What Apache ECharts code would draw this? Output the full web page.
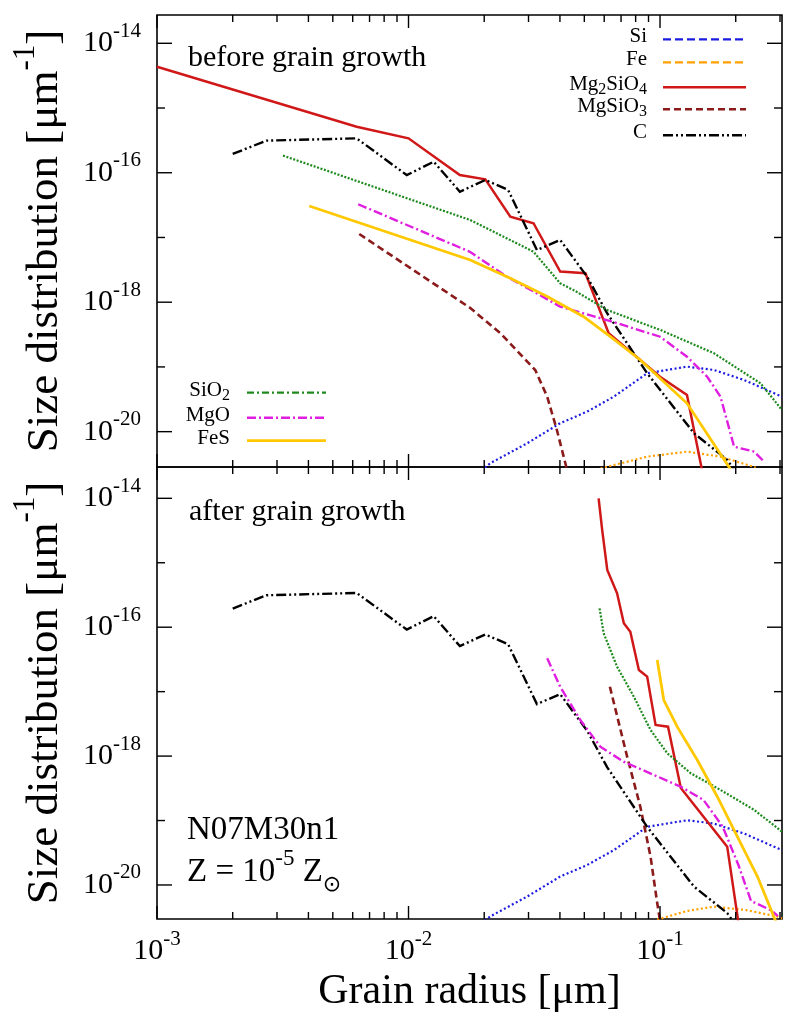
<!DOCTYPE html>
<html>
<head>
<meta charset="utf-8">
<script src="https://cdn.jsdelivr.net/npm/echarts@6/dist/echarts.min.js"></script>
<style>
  html, body { margin: 0; padding: 0; background: #fff; }
  #chart { width: 788px; height: 1017px; }
</style>
</head>
<body>
<div id="chart"></div>
<script>
// Grain size distributions [um^-1] against grain radius [um], before and after grain growth.

// ---- before grain growth ----
const siBefore = [[0.0195, 2.5e-21], [0.0211, 3.24e-21], [0.0296, 6.6e-21], [0.0401, 1.35e-20], [0.0513, 2.04e-20],
  [0.0655, 3.47e-20], [0.0889, 7.98e-20], [0.128, 1.01e-19], [0.164, 8.97e-20], [0.216, 6.28e-20], [0.3055, 3.47e-20]];
const feBefore = [[0.058, 2.7e-21], [0.0889, 4.11e-21], [0.128, 4.91e-21], [0.174, 4.11e-21], [0.24, 2.8e-21]];
const mg2sio4Before = [[0.001, 4.34e-15], [0.00622, 5.15e-16], [0.0100, 3.40e-16], [0.0160, 9.2e-17], [0.0202, 7.92e-17],
  [0.0254, 2.09e-17], [0.0314, 1.66e-17], [0.0401, 2.97e-18], [0.0505, 2.80e-18], [0.0625, 3.31e-19], [0.1, 7.06e-20],
  [0.128, 3.69e-20], [0.148, 2.2e-21]];
const mgsio3Before = [[0.00637, 1.13e-17], [0.0176, 8.15e-19], [0.0232, 3.31e-19], [0.0319, 8.97e-20], [0.0356, 3.47e-20],
  [0.0389, 1.06e-20], [0.0430, 2.3e-21]];
const cBefore = [[0.0020, 1.95e-16], [0.00272, 3.13e-16], [0.00622, 3.40e-16], [0.00984, 9.2e-17], [0.0126, 1.48e-16],
  [0.0160, 5.09e-17], [0.0202, 7.73e-17], [0.0249, 5.42e-17], [0.0324, 6.41e-18], [0.0401, 9.14e-18], [0.0513, 2.48e-18],
  [0.0616, 6.75e-19], [0.0889, 7.98e-20], [0.1365, 9.44e-21], [0.185, 3.66e-21], [0.2, 2.4e-21]];
const sio2Before = [[0.00317, 1.84e-16], [0.0176, 1.86e-17], [0.0314, 6.03e-18], [0.0401, 1.96e-18], [0.0460, 1.49e-18],
  [0.0616, 7.59e-19], [0.1004, 3.72e-19], [0.1637, 1.63e-19], [0.251, 5.58e-20], [0.3055, 2.16e-20]];
const mgoBefore = [[0.00631, 3.26e-17], [0.0176, 5.97e-18], [0.0246, 2.48e-18], [0.0324, 1.37e-18], [0.0401, 8.53e-19],
  [0.0647, 5.0e-19], [0.1, 2.93e-19], [0.128, 1.44e-19], [0.154, 7.06e-20], [0.174, 3.47e-20], [0.197, 5.86e-21],
  [0.237, 4.91e-21], [0.26, 3.4e-21]];
const fesBefore = [[0.00403, 3.06e-17], [0.0176, 4.49e-18], [0.0254, 2.35e-18], [0.0356, 1.22e-18], [0.0497, 5.97e-19],
  [0.0635, 2.93e-19], [0.0835, 1.28e-19], [0.128, 2.74e-20], [0.195, 2.3e-21]];

// ---- after grain growth (Si and C keep their distributions) ----
const siAfter = siBefore;
const cAfter = cBefore;
const feAfter = [[0.0975, 2.9e-21], [0.128, 3.95e-21], [0.1637, 4.61e-21], [0.219, 4.09e-21], [0.293, 3.24e-21], [0.3055, 3.0e-21]];
const mg2sio4After = [[0.0570, 1.0e-14], [0.0589, 3.22e-15], [0.0617, 7.73e-16], [0.0675, 3.36e-16], [0.0718, 1.15e-16],
  [0.0762, 8.51e-17], [0.0824, 2.17e-17], [0.0889, 1.71e-17], [0.0960, 3.04e-18], [0.1076, 2.86e-18], [0.121, 3.2e-19],
  [0.185, 3.93e-20], [0.206, 2.3e-21]];
const mgsio3After = [[0.0632, 1.19e-17], [0.0740, 9.8e-19], [0.0835, 1.64e-19], [0.0917, 2.75e-20], [0.0975, 5.2e-21],
  [0.1008, 2.3e-21]];
const sio2After = [[0.0575, 1.96e-16], [0.0597, 8.04e-17], [0.0675, 2.44e-17], [0.0787, 8.35e-18], [0.0917, 2.54e-18],
  [0.107, 1.10e-18], [0.1325, 5.41e-19], [0.174, 2.98e-19], [0.237, 1.46e-19], [0.3055, 6.71e-20]];
const mgoAfter = [[0.0356, 3.29e-17], [0.0401, 1.19e-17], [0.0482, 3.63e-18], [0.0579, 1.40e-18], [0.0716, 8.18e-19],
  [0.121, 3.35e-19], [0.149, 2.08e-19], [0.1775, 8.04e-20], [0.205, 2.04e-20], [0.23, 5.65e-21], [0.275, 4.09e-21],
  [0.294, 3.30e-21]];
const fesAfter = [[0.0975, 3.10e-17], [0.1035, 7.41e-18], [0.117, 2.86e-18], [0.1406, 8.69e-19], [0.169, 2.34e-19],
  [0.203, 5.62e-20], [0.244, 1.35e-20], [0.29, 2.6e-21]];

// ---- tick positions ----
const xMajorTicks = [0.001, 0.01, 0.1];
const xMinorTicks = [0.002, 0.003, 0.004, 0.005, 0.006, 0.007, 0.008, 0.009,
  0.02, 0.03, 0.04, 0.05, 0.06, 0.07, 0.08, 0.09, 0.2, 0.3];
const yMajorTicks = [1e-20, 1e-18, 1e-16, 1e-14];
const yMinorTicks = [1e-19, 1e-17, 1e-15];

const SERIF = '"Liberation Serif", "Times New Roman", "DejaVu Serif", serif';

const COLORS = {
  Si: '#1c1ce0', Fe: '#ffa000', Mg2SiO4: '#d01818', MgSiO3: '#8b1a1a',
  C: '#000000', SiO2: '#1e8a1e', MgO: '#e01ee0', FeS: '#ffc800'
};
const DASH = {
  Si: [2, 2.5], Fe: [2, 2.5], Mg2SiO4: 'solid', MgSiO3: [7, 4],
  C: [10, 3, 2, 3, 2, 3], SiO2: [2, 1.6], MgO: [9, 3, 2, 3], FeS: 'solid'
};
const WIDTH = { Si: 2.2, Fe: 2.2, Mg2SiO4: 2.5, MgSiO3: 2.6, C: 2.4, SiO2: 2.2, MgO: 2.4, FeS: 2.8 };

function lineSeries(name, data, g) {
  return {
    type: 'line', name: name, data: data, xAxisIndex: g, yAxisIndex: g,
    showSymbol: false, symbol: 'none', clip: true, silent: true,
    lineStyle: { color: COLORS[name], width: WIDTH[name], type: DASH[name], cap: 'butt', join: 'miter' },
    emphasis: { disabled: true }
  };
}

// inward ticks on all four sides of a panel, drawn through the panel's own axes
const tickData = [].concat(
  xMajorTicks.map(v => [v, 1e-17, 0]),
  xMinorTicks.map(v => [v, 1e-17, 1]),
  yMajorTicks.map(v => [0.01, v, 2]),
  yMinorTicks.map(v => [0.01, v, 3])
);
function tickSeries(g) {
  return {
    type: 'custom', xAxisIndex: g, yAxisIndex: g, silent: true, z: 10,
    dimensions: ['x', 'y', 'kind'], encode: { x: 0, y: 1 },
    data: tickData,
    renderItem: function (params, api) {
      const cs = params.coordSys;
      const kind = api.value(2);
      const p = api.coord([api.value(0), api.value(1)]);
      const st = { stroke: '#000', lineWidth: 1.4 };
      if (kind < 2) {
        const len = kind === 0 ? 13 : 7;
        const b = cs.y + cs.height;
        return { type: 'group', children: [
          { type: 'line', shape: { x1: p[0], y1: b, x2: p[0], y2: b - len }, style: st },
          { type: 'line', shape: { x1: p[0], y1: cs.y, x2: p[0], y2: cs.y + len }, style: st }
        ] };
      }
      const len = kind === 2 ? 15 : 8;
      const r = cs.x + cs.width;
      return { type: 'group', children: [
        { type: 'line', shape: { x1: cs.x, y1: p[1], x2: cs.x + len, y2: p[1] }, style: st },
        { type: 'line', shape: { x1: r, y1: p[1], x2: r - len, y2: p[1] }, style: st }
      ] };
    }
  };
}

function decadeLabel(v, evenOnly) {
  const e = Math.log10(v);
  const r = Math.round(e);
  if (Math.abs(e - r) > 1e-6) return '';
  if (evenOnly && r % 2 !== 0) return '';
  return '{b|10}{s|' + r + '}';
}

const tickRich = {
  b: { fontSize: 30, fontFamily: SERIF, color: '#000', verticalAlign: 'middle' },
  s: { fontSize: 21, fontFamily: SERIF, color: '#000', verticalAlign: 'top', padding: [0, 0, 24, 0] }
};

function xAxis(g, withLabels) {
  const ax = {
    type: 'log', gridIndex: g, min: 0.001, max: Math.pow(10, -0.515),
    axisLine: { show: false }, axisTick: { show: false }, splitLine: { show: false },
    axisLabel: {
      show: withLabels, interval: 0, margin: 10, hideOverlap: false,
      formatter: v => decadeLabel(v, false), rich: tickRich
    }
  };
  if (withLabels) {
    ax.name = 'Grain radius [μm]';
    ax.nameLocation = 'middle';
    ax.nameGap = 52;
    ax.nameMoveOverlap = false;
    ax.nameTextStyle = { fontFamily: SERIF, fontSize: 42, color: '#000' };
  }
  return ax;
}

function yAxis(g, lo, hi) {
  return {
    type: 'log', gridIndex: g, min: Math.pow(10, lo), max: Math.pow(10, hi),
    axisLine: { show: false }, axisTick: { show: false }, splitLine: { show: false },
    axisLabel: { interval: 0, margin: 16, hideOverlap: false, formatter: v => decadeLabel(v, true), rich: tickRich },
    name: '{n|Size distribution [μm}{s|-1}{n|]}',
    nameLocation: 'middle', nameRotate: 90, nameGap: 76, nameMoveOverlap: false,
    nameTextStyle: {
      color: '#000',
      rich: {
        n: { fontFamily: SERIF, fontSize: 45, color: '#000', verticalAlign: 'middle' },
        s: { fontFamily: SERIF, fontSize: 31, color: '#000', verticalAlign: 'top', padding: [0, 0, 40, 0] }
      }
    }
  };
}

function txt(x, y, text, size, align, rich) {
  return {
    type: 'text', x: x, y: y, silent: true, z: 20,
    style: {
      text: text, fontSize: size, fontFamily: SERIF, fill: '#000',
      align: align, textAlign: align, verticalAlign: 'middle', textVerticalAlign: 'middle',
      rich: rich
    }
  };
}
function keyLine(x1, x2, y, name, dash) {
  return {
    type: 'line', silent: true, z: 20,
    shape: { x1: x1, y1: y, x2: x2, y2: y },
    style: { stroke: COLORS[name], lineWidth: WIDTH[name], lineDash: dash }
  };
}

const keyRich = {
  n: { fontSize: 21, fontFamily: SERIF, fill: '#000', verticalAlign: 'middle' },
  d: { fontSize: 16, fontFamily: SERIF, fill: '#000', verticalAlign: 'bottom', padding: [12, 0, 0, 0] }
};
const noteRich = {
  n: { fontSize: 33, fontFamily: SERIF, fill: '#000', verticalAlign: 'middle' },
  u: { fontSize: 23, fontFamily: SERIF, fill: '#000', verticalAlign: 'top', padding: [0, 0, 26, 0] },
  d: { fontSize: 22, fontFamily: '"DejaVu Sans", sans-serif', fill: '#000', verticalAlign: 'bottom', padding: [18, 0, 0, 0] }
};

const gridBase = { left: 157, right: 6, height: 452, show: true, borderColor: '#000', borderWidth: 1.6,
  backgroundColor: 'transparent', outerBoundsMode: 'none', containLabel: false };

const chart = echarts.init(document.getElementById('chart'), null, { renderer: 'canvas', width: 788, height: 1017 });
chart.setOption({
  animation: false,
  backgroundColor: '#fff',
  grid: [
    Object.assign({ top: 15 }, gridBase),
    Object.assign({ top: 467 }, gridBase)
  ],
  xAxis: [xAxis(0, false), xAxis(1, true)],
  yAxis: [yAxis(0, -20.546, -13.563), yAxis(1, -20.528, -13.514)],
  series: [
    lineSeries('Si', siBefore, 0),
    lineSeries('Fe', feBefore, 0),
    lineSeries('Mg2SiO4', mg2sio4Before, 0),
    lineSeries('MgSiO3', mgsio3Before, 0),
    lineSeries('C', cBefore, 0),
    lineSeries('SiO2', sio2Before, 0),
    lineSeries('MgO', mgoBefore, 0),
    lineSeries('FeS', fesBefore, 0),
    lineSeries('Si', siAfter, 1),
    lineSeries('Fe', feAfter, 1),
    lineSeries('Mg2SiO4', mg2sio4After, 1),
    lineSeries('MgSiO3', mgsio3After, 1),
    lineSeries('C', cAfter, 1),
    lineSeries('SiO2', sio2After, 1),
    lineSeries('MgO', mgoAfter, 1),
    lineSeries('FeS', fesAfter, 1),
    tickSeries(0),
    tickSeries(1)
  ],
  graphic: [
    txt(188, 58, 'before grain growth', 30, 'left'),
    txt(189, 512, 'after grain growth', 30, 'left'),
    txt(187, 830, 'N07M30n1', 33, 'left'),
    txt(187, 872, '{n|Z = 10}{u|-5}{n| Z}{d|⊙}', 33, 'left', noteRich),

    // key, upper block
    txt(647, 36, '{n|Si}', 21, 'right', keyRich),
    keyLine(663, 745, 39.3, 'Si', [8, 4]),
    txt(647, 59, '{n|Fe}', 21, 'right', keyRich),
    keyLine(663, 745, 62.3, 'Fe', [8, 4]),
    txt(647, 84, '{n|Mg}{d|2}{n|SiO}{d|4}', 21, 'right', keyRich),
    keyLine(663, 746, 87.3, 'Mg2SiO4', null),
    txt(647, 106, '{n|MgSiO}{d|3}', 21, 'right', keyRich),
    keyLine(663, 746, 109.3, 'MgSiO3', [7, 4]),
    txt(647, 132, '{n|C}', 21, 'right', keyRich),
    keyLine(663, 746, 135.3, 'C', [10, 3, 2, 3, 2, 3]),

    // key, lower block
    txt(230, 390, '{n|SiO}{d|2}', 21, 'right', keyRich),
    keyLine(247, 326, 392.7, 'SiO2', [7, 3, 2, 3]),
    txt(230, 415, '{n|MgO}', 21, 'right', keyRich),
    keyLine(247, 326, 417.7, 'MgO', [9, 3, 2, 3]),
    txt(230, 438, '{n|FeS}', 21, 'right', keyRich),
    keyLine(247, 326, 440.7, 'FeS', null)
  ]
});
</script>
</body>
</html>
